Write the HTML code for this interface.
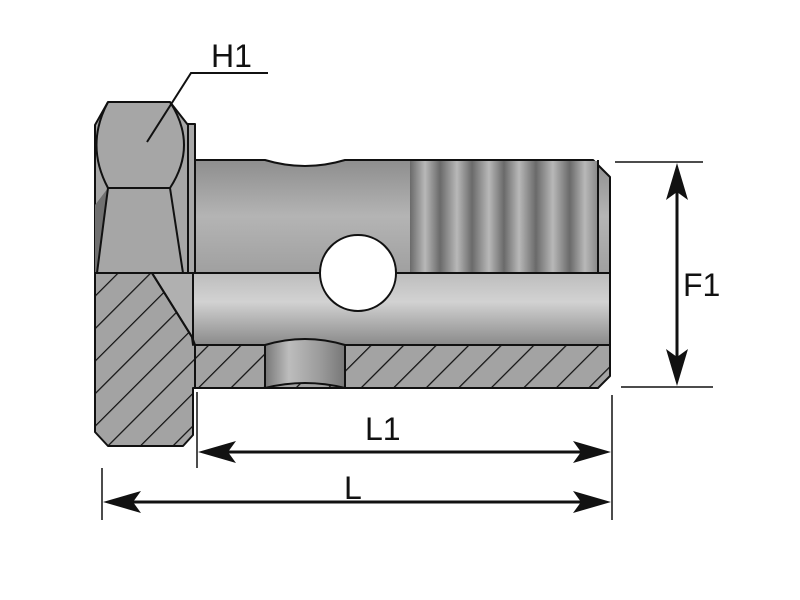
<!DOCTYPE html>
<html><head><meta charset="utf-8"><style>html,body{margin:0;padding:0;background:#fff}svg{display:block}</style></head>
<body>
<svg width="800" height="600" viewBox="0 0 800 600" xmlns="http://www.w3.org/2000/svg">
<defs>
<pattern id="hatch" patternUnits="userSpaceOnUse" width="23" height="23" patternTransform="rotate(45)">
<rect width="23" height="23" fill="#a3a3a3"/>
<line x1="0" y1="0" x2="0" y2="23" stroke="#111" stroke-width="2.5"/>
</pattern>
<linearGradient id="gv" x1="0" y1="0" x2="0" y2="1">
<stop offset="0" stop-color="#8e8e8e"/><stop offset="0.5" stop-color="#b4b4b4"/><stop offset="1" stop-color="#a0a0a0"/>
</linearGradient>
<linearGradient id="gb" x1="0" y1="0" x2="0" y2="1">
<stop offset="0" stop-color="#bdbdbd"/><stop offset="0.4" stop-color="#d2d2d2"/><stop offset="1" stop-color="#8a8a8a"/>
</linearGradient>
<linearGradient id="gt" x1="0" y1="0" x2="1" y2="0">
<stop offset="0" stop-color="#6a6a6a"/><stop offset="0.08" stop-color="#b8b8b8"/><stop offset="0.16" stop-color="#6a6a6a"/>
<stop offset="0.25" stop-color="#b8b8b8"/><stop offset="0.33" stop-color="#6a6a6a"/><stop offset="0.42" stop-color="#b8b8b8"/>
<stop offset="0.5" stop-color="#6a6a6a"/><stop offset="0.58" stop-color="#b8b8b8"/><stop offset="0.67" stop-color="#6a6a6a"/>
<stop offset="0.76" stop-color="#b8b8b8"/><stop offset="0.85" stop-color="#6a6a6a"/><stop offset="0.93" stop-color="#b8b8b8"/><stop offset="1" stop-color="#888"/>
</linearGradient>
<linearGradient id="gh" x1="0" y1="0" x2="1" y2="0">
<stop offset="0" stop-color="#777"/><stop offset="0.3" stop-color="#bdbdbd"/><stop offset="0.7" stop-color="#9a9a9a"/><stop offset="1" stop-color="#777"/>
</linearGradient>
</defs>
<g stroke="#111" stroke-width="2" stroke-linejoin="round">
<path d="M195 160 L265 160 Q305 172 345 160 L593 160 L610 177 L610 273 L195 273 Z" fill="url(#gv)"/>
<rect x="410" y="161" width="188" height="111" fill="url(#gt)" stroke="none"/>
<line x1="598" y1="160" x2="598" y2="273"/>
<rect x="193" y="273" width="417" height="72" fill="url(#gb)"/>
<path d="M195 345 L610 345 L610 376 L598 388 L195 388 Z" fill="url(#hatch)"/>
<path d="M265 345 Q305 333 345 345 L345 388 Q305 378 265 388 Z" fill="url(#gh)"/>
<rect x="183" y="124" width="12" height="149" fill="#a8a8a8"/>
<path d="M95 125 L108 102 L170 102 L188 125 L188 273 L95 273 Z" fill="#a6a6a6"/>
<path d="M95 205 L108 188 L97 273 L95 273 Z" fill="#707070" stroke="none"/>
<path d="M108 102 Q85 145 108 188 L170 188 Q198 145 170 102" fill="none"/>
<path d="M108 188 L97 273 M170 188 L183 273" fill="none"/>
<path d="M95 273 L152 273 L192 337 L195 345 L195 388 L193 388 L193 435 L183 446 L108 446 L95 432 Z" fill="url(#hatch)"/>
<path d="M152 273 L193 273 L193 345 L192 337 Z" fill="#b0b0b0"/>
<line x1="152" y1="273" x2="192" y2="337"/>
<line x1="95" y1="273" x2="610" y2="273"/>
<circle cx="358" cy="273" r="38" fill="#fff"/>
</g>
<g stroke="#111" stroke-width="1.5" fill="none">
<line x1="615" y1="162" x2="703" y2="162"/>
<line x1="621" y1="387" x2="713" y2="387"/>
<line x1="677" y1="175" x2="677" y2="375" stroke-width="3"/>
<line x1="197" y1="392" x2="197" y2="468"/>
<line x1="612" y1="395" x2="612" y2="520"/>
<line x1="210" y1="452" x2="600" y2="452" stroke-width="3"/>
<line x1="102" y1="468" x2="102" y2="520"/>
<line x1="115" y1="502" x2="600" y2="502" stroke-width="3"/>
<polyline points="268,73 191,73 147,142" stroke-width="2"/>
</g>
<g fill="#111">
<path d="M677 163 L688 200 L677 192 L666 200 Z"/>
<path d="M677 386 L688 349 L677 357 L666 349 Z"/>
<path d="M198 452 L236 441 L228 452 L236 463 Z"/>
<path d="M611 452 L573 441 L581 452 L573 463 Z"/>
<path d="M103 502 L141 491 L133 502 L141 513 Z"/>
<path d="M611 502 L573 491 L581 502 L573 513 Z"/>
</g>
<g font-family="Liberation Sans, sans-serif" font-size="32" fill="#111">
<text x="211" y="67">H1</text>
<text x="683" y="296">F1</text>
<text x="365" y="440">L1</text>
<text x="344" y="499">L</text>
</g>
</svg>
</body></html>
